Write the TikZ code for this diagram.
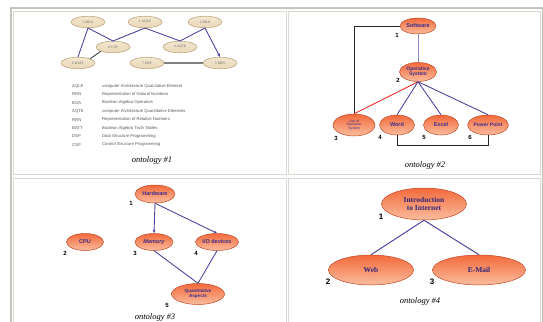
\documentclass[tikz,border=0pt]{standalone}
\usepackage{fontspec}
\setmainfont{Liberation Serif}
\setsansfont{Liberation Sans}
\usetikzlibrary{shapes.geometric,arrows.meta}
\definecolor{edgeblue}{HTML}{5048A0}
\definecolor{lightedge}{HTML}{8C88C8}
\definecolor{nodetext}{HTML}{3A2E8C}
\definecolor{orA}{HTML}{F26A3C}
\definecolor{orB}{HTML}{FBBD9E}
\definecolor{orline}{HTML}{C04A28}
\definecolor{beige}{HTML}{EFE1C4}
\definecolor{beigeline}{HTML}{BFA880}
\definecolor{frameout}{HTML}{C4C4BC}
\definecolor{framein}{HTML}{DADAD2}
\definecolor{redline}{HTML}{E03030}
\tikzset{
  onto/.style={ellipse, draw=orline, line width=0.5pt, top color=orA, bottom color=orB,
    inner sep=0pt, text=nodetext, font=\sffamily\bfseries\fontsize{5.5}{6}\selectfont, align=center},
  bnode/.style={ellipse, draw=beigeline, line width=0.6pt, top color=beige!80!white, bottom color=beige!90!brown, minimum width=34pt,
    minimum height=11.5pt, inner sep=0pt, font=\fontsize{3.6}{4}\selectfont, text=black!60},
  num/.style={font=\sffamily\bfseries\fontsize{6}{7}\selectfont, inner sep=0pt},
  bignum/.style={font=\sffamily\bfseries\fontsize{8}{9}\selectfont, inner sep=0pt},
  captext/.style={font=\itshape\fontsize{8.5}{10}\selectfont, inner sep=0pt},
  bl/.style={draw=edgeblue, line width=0.9pt},
  blk/.style={draw=black!85, line width=0.9pt},
  leg/.style={font=\sffamily\fontsize{4.2}{5}\selectfont, text=black!65, anchor=west, inner sep=0pt},
  frout/.style={draw=frameout, line width=1.2pt},
  frin/.style={draw=framein, line width=0.9pt}
}
\begin{document}
\begin{tikzpicture}[x=1pt,y=-1pt]
\useasboundingbox[fill=white] (0,0) rectangle (543,321);
% frames
\draw[frout] (11,8) rectangle (542.5,340);
\draw[frin] (13.5,11) rectangle (286,174.5);
\draw[frin] (288.5,11) rectangle (540,174.5);
\draw[frin] (13.5,178) rectangle (286,335);
\draw[frin] (288.5,178) rectangle (540,335);

% ---------- ontology 1 ----------
\node[bnode] (boa) at (88,22) {3 BOA};
\node[bnode] (aqle) at (145,22) {1 AQLE};
\node[bnode] (rnn) at (205,22) {2 RNN};
\node[bnode] (csp) at (113,47) {8 CSP};
\node[bnode] (aqte) at (180,47) {4 AQTE};
\node[bnode] (batt) at (78,63) {6 BATT};
\node[bnode] (dsp) at (147,63) {7 DSP};
\node[bnode] (rrn) at (220,63) {5 RRN};
\draw[bl] (boa.south) -- (batt.north);
\draw[bl] (boa.south) -- (csp.north);
\draw[bl] (csp.north) -- (aqle.south);
\draw[bl] (aqle.south) -- (aqte.north);
\draw[bl] (aqte.north) -- (rnn.south);
\draw[bl,-{Stealth[length=3.5pt,width=3pt]}] (rnn.south) -- (rrn.north);
\draw[draw=black!75, line width=0.9pt] (batt.north east) -- (csp.south west);
\draw[draw=black!50, line width=1.6pt] (dsp.east) -- (rrn.west);

\foreach \ab/\desc [count=\i from 0] in {
  AQLE/computer Architecture QuaLitative Element,
  RNN/Representation of Natural Numbers,
  BOA/Boolean Algebra Operators,
  AQTE/computer Architecture Quantitative Elements,
  RRN/Representation of Relative Numbers,
  BATT/Boolean Algebra Truth Tables,
  DSP/Data Structure Programming,
  CSP/Control Structure Programming}{
  \node[leg] (la\i) at (72,{86+8.4*\i}) {\ab};
  \node[leg] (ld\i) at (102,{86+8.4*\i}) {\desc};
}
\node[captext] (cap1) at (152,160) {ontology \#1};

% ---------- ontology 2 ----------
\node[onto, minimum width=36pt, minimum height=16pt] (sw) at (418,26) {Software};
\node[onto, minimum width=37pt, minimum height=19pt, font=\sffamily\bfseries\fontsize{5}{5.4}\selectfont] (os) at (418,72) {Operative\\System};
\node[onto, minimum width=42pt, minimum height=22pt, font=\sffamily\fontsize{3.4}{3.8}\selectfont] (use) at (354,125) {Use of\\Operative\\System};
\node[onto, minimum width=35pt, minimum height=20pt] (word) at (397,125) {Word};
\node[onto, minimum width=35pt, minimum height=20pt] (excel) at (441,125) {Excel};
\node[onto, minimum width=39pt, minimum height=20pt, font=\sffamily\bfseries\fontsize{5}{5.4}\selectfont] (pp) at (488,125) {Power Point};
\node[num] (n21) at (397,35) {1};
\node[num] (n22) at (398,80) {2};
\node[num] (n23) at (336,138) {3};
\node[num] (n24) at (380,137) {4};
\node[num] (n25) at (424,137) {5};
\node[num] (n26) at (470,137) {6};
\draw[draw=lightedge, line width=0.9pt] (sw.south) -- (os.north);
\draw[blk] (sw.west) -| (use.north);
\draw[draw=redline, line width=0.9pt] (os.south) -- (use.north);
\draw[bl] (os.south) -- (word.north);
\draw[bl] (os.south) -- (excel.north);
\draw[bl] (os.south) -- (pp.north);
\draw[blk] (word.south) -- ++(0,10) -| (pp.south);
\node[captext] (cap2) at (425,165) {ontology \#2};

% ---------- ontology 3 ----------
\node[onto, minimum width=40pt, minimum height=18pt] (hw) at (155,194) {Hardware};
\node[onto, minimum width=37pt, minimum height=17pt] (cpu) at (85,242) {CPU};
\node[onto, minimum width=38pt, minimum height=17pt] (mem) at (154,242) {\itshape Memory};
\node[onto, minimum width=43pt, minimum height=17pt] (io) at (217,242) {I/O devices};
\node[onto, minimum width=53pt, minimum height=21pt, font=\sffamily\bfseries\fontsize{4.6}{5.2}\selectfont] (qa) at (198,294) {Quantitative\\Aspects};
\node[num] (n31) at (131,203) {1};
\node[num] (n32) at (65,253) {2};
\node[num] (n33) at (135,253) {3};
\node[num] (n34) at (196,253) {4};
\node[num] (n35) at (167,305) {5};
\draw[bl,-{Stealth[length=3.5pt,width=3pt]}] (hw.south) -- (mem.north);
\draw[bl,-{Stealth[length=3.5pt,width=3pt]}] (hw.south) -- (io.north);
\draw[bl] (mem.south) -- (qa.north);
\draw[bl] (io.south) -- (qa.north);
\node[captext] (cap3) at (155,317) {ontology \#3};

% ---------- ontology 4 ----------
\node[onto, minimum width=85pt, minimum height=32pt, font=\rmfamily\bfseries\fontsize{7.5}{8.5}\selectfont, text=nodetext!85!black] (intro) at (424,204) {Introduction\\to Internet};
\node[onto, minimum width=85pt, minimum height=30pt, font=\rmfamily\bfseries\fontsize{7.5}{8.5}\selectfont, text=nodetext!85!black] (web) at (371,270) {Web};
\node[onto, minimum width=93pt, minimum height=30pt, font=\rmfamily\bfseries\fontsize{7.5}{8.5}\selectfont, text=nodetext!85!black] (email) at (479,270) {E-Mail};
\node[bignum] (n41) at (381,217) {1};
\node[bignum] (n42) at (328,282) {2};
\node[bignum] (n43) at (432,282) {3};
\draw[bl, line width=1pt] (intro.south) -- (web.north);
\draw[bl, line width=1pt] (intro.south) -- (email.north);
\node[captext] (cap4) at (420,301) {ontology \#4};
\end{tikzpicture}
\end{document}
